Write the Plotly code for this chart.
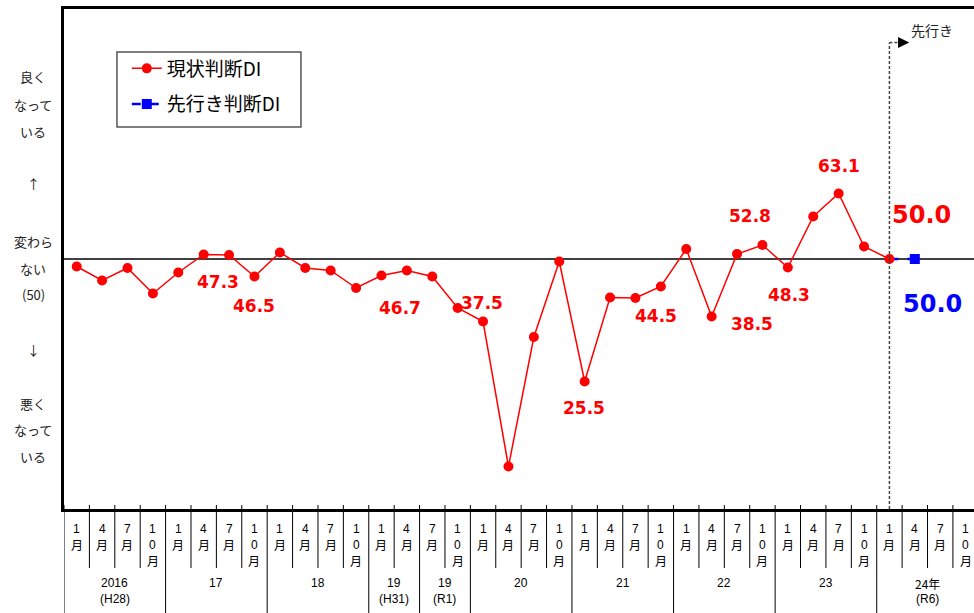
import plotly.graph_objects as go

# ---- data -------------------------------------------------------------
month_labels = ["1月", "4月", "7月", "10月"]
year_labels = [["2016", "(H28)"], ["17"], ["18"], ["19", "(H31)"],
               ["19", "(R1)"], ["20"], ["21"], ["22"], ["23"],
               ["24年", "(R6)"]]
# first / last quarter index covered by each year label
year_spans = [(0, 3), (4, 7), (8, 11), (12, 13), (14, 15),
              (16, 19), (20, 23), (24, 27), (28, 31), (32, 35)]
n_quarters = 36  # 2016 Jan .. 2024 Oct

# 現状判断DI, quarterly from 2016 Jan to 2024 Jan
current_di = [48.5, 45.7, 48.2, 43.1, 47.3, 50.9, 50.8, 46.5,
              51.3, 48.2, 47.7, 44.2, 46.7, 47.7, 46.5, 40.2,
              37.5, 8.5, 34.4, 49.5, 25.5, 42.3, 42.2, 44.5,
              52.0, 38.5, 51.0, 52.8, 48.3, 58.5, 63.1, 52.5,
              50.0]
# 先行き判断DI (2024 Jan -> 2024 Apr)
outlook_x = [32, 33]
outlook_di = [50.0, 50.0]

# value labels: (quarter index, x offset px, y offset px downward)
current_labels = [(4, 40, 9), (7, 0, 29), (12, 19, 32), (16, -1, -19),
                  (20, -1, 26), (23, -5, 29), (25, 40, 7), (27, -12, -29),
                  (28, 1, 27), (30, 0, -28)]

CJK = "Noto Sans CJK JP"
LAT = "Liberation Sans"
NUM = "DejaVu Sans"
RED = "#FF0000"
BLUE = "#0000FF"

x_current = list(range(len(current_di)))
x_max = 35.33


def px_to_paper(py):
    """Vertical pixel (page) -> paper coordinate for the 500px plot area."""
    return -(py - 509) / 500


def table_font(text):
    """CJK face for kanji, a compact Latin face for digits/brackets."""
    has_cjk = any(ord(c) > 0x2E80 for c in text)
    return dict(family=CJK if has_cjk else LAT, size=12, color="black")


fig = go.Figure()

# connecting dashed segment of the outlook (no marker on the start point)
fig.add_trace(go.Scatter(
    x=outlook_x, y=outlook_di, mode="lines", showlegend=False,
    line=dict(color=BLUE, width=2.5, dash="dash"),
    legendgroup="b", hoverinfo="skip"))
# outlook point itself (also gives the legend entry)
fig.add_trace(go.Scatter(
    x=outlook_x[-1:], y=outlook_di[-1:], mode="lines+markers",
    name="先行き判断DI",
    line=dict(color=BLUE, width=2.5, dash="dash"),
    marker=dict(symbol="square", size=10, color=BLUE),
    legendgroup="b", legendrank=2, hoverinfo="skip"))

fig.add_trace(go.Scatter(
    x=x_current, y=current_di, mode="lines+markers", name="現状判断DI",
    line=dict(color=RED, width=1.5),
    marker=dict(symbol="circle", size=10, color=RED),
    legendgroup="a", legendrank=1, hoverinfo="skip"))

shapes = []
annotations = []

# reference line at 50
shapes.append(dict(type="line", xref="x", yref="y", x0=-0.5, x1=x_max,
                   y0=50, y1=50, line=dict(color="black", width=1.5),
                   layer="below"))

# forecast divider with arrow
arrow_y = 93.3
shapes.append(dict(type="line", xref="x", yref="y", x0=32, x1=32,
                   y0=0, y1=arrow_y,
                   line=dict(color="#444", width=1.5, dash="3px,2px")))
shapes.append(dict(type="line", xref="x", yref="y", x0=32, x1=32.42,
                   y0=arrow_y, y1=arrow_y,
                   line=dict(color="#444", width=1.5, dash="3px,2px")))
annotations.append(dict(x=32.78, y=arrow_y, xref="x", yref="y", text="",
                        showarrow=True, ax=-8, ay=0, arrowhead=2,
                        arrowsize=1.4, arrowwidth=1.6, arrowcolor="black"))
annotations.append(dict(x=32, y=95.9, xref="x", yref="y", xshift=43,
                        text="先行き", showarrow=False,
                        font=dict(family=CJK, size=14, color="#222")))

# value labels
for i, dx, dy in current_labels:
    annotations.append(dict(
        x=i, y=current_di[i], xref="x", yref="y", xshift=dx, yshift=-dy,
        text=f"{current_di[i]:.1f}", showarrow=False,
        font=dict(family=NUM, size=17, color=RED, weight="bold")))
annotations.append(dict(
    x=32, y=current_di[32], xref="x", yref="y", xshift=32, yshift=44,
    text=f"{current_di[32]:.1f}", showarrow=False,
    font=dict(family=NUM, size=24, color=RED, weight="bold")))
annotations.append(dict(
    x=outlook_x[-1], y=outlook_di[-1], xref="x", yref="y", xshift=18,
    yshift=-45, text=f"{outlook_di[-1]:.1f}", showarrow=False,
    font=dict(family=NUM, size=24, color=BLUE, weight="bold")))

# left side captions
side_text = [("良く", 86.6), ("なって", 80.9), ("いる", 75.5), ("↑", 65.2),
             ("変わら", 53.5), ("ない", 48.2), ("(50)", 42.9), ("↓", 31.9),
             ("悪く", 21.2), ("なって", 15.9), ("いる", 10.5)]
for t, yv in side_text:
    annotations.append(dict(x=-0.034, y=yv, xref="paper", yref="y", text=t,
                            showarrow=False, xanchor="center",
                            font=dict(family=CJK, size=13, color="#222")))

# x-axis table: month row (characters stacked vertically) and year row
row1_bottom = px_to_paper(568)
row2_bottom = px_to_paper(620)
year_edges = {s - 0.5 for s, _ in year_spans}
for q in range(n_quarters):
    edge = q - 0.5
    bottom = row2_bottom if edge in year_edges else row1_bottom
    shapes.append(dict(type="line", xref="x", yref="paper", x0=edge,
                       x1=edge, y0=0.008, y1=bottom,
                       line=dict(color="black", width=1)))
    for k, ch in enumerate(month_labels[q % 4]):
        annotations.append(dict(x=q, y=px_to_paper(529 + 15.5 * k),
                                xref="x", yref="paper", text=ch,
                                showarrow=False, yanchor="middle",
                                xanchor="center", borderpad=0,
                                font=table_font(ch)))

for lines, (a, b) in zip(year_labels, year_spans):
    for k, line in enumerate(lines):
        annotations.append(dict(x=(a + b) / 2,
                                y=px_to_paper(583 + 15.5 * k),
                                xref="x", yref="paper", text=line,
                                showarrow=False, yanchor="middle",
                                xanchor="center", borderpad=0,
                                font=table_font(line)))

# legend frame
shapes.append(dict(type="rect", xref="paper", yref="paper",
                   x0=0.0582, x1=0.2604, y0=0.764, y1=0.914,
                   line=dict(color="#555", width=1.5),
                   fillcolor="rgba(0,0,0,0)"))

fig.update_layout(
    width=974, height=613,
    margin=dict(l=64, r=0, t=9, b=104),
    paper_bgcolor="white", plot_bgcolor="white",
    showlegend=True,
    legend=dict(x=0.069, y=0.919, xanchor="left", yanchor="top",
                bgcolor="rgba(0,0,0,0)", borderwidth=0,
                font=dict(family=CJK, size=19, color="black"),
                tracegroupgap=8),
    xaxis=dict(range=[-0.5, x_max], showticklabels=False, showgrid=False,
               zeroline=False, showline=True, mirror=True, linewidth=3,
               linecolor="black", ticks=""),
    yaxis=dict(range=[0, 100], showticklabels=False, showgrid=False,
               zeroline=False, showline=True, mirror=False, linewidth=3,
               linecolor="black", ticks=""),
    shapes=shapes,
    annotations=annotations,
)

fig.write_html("out.html")
